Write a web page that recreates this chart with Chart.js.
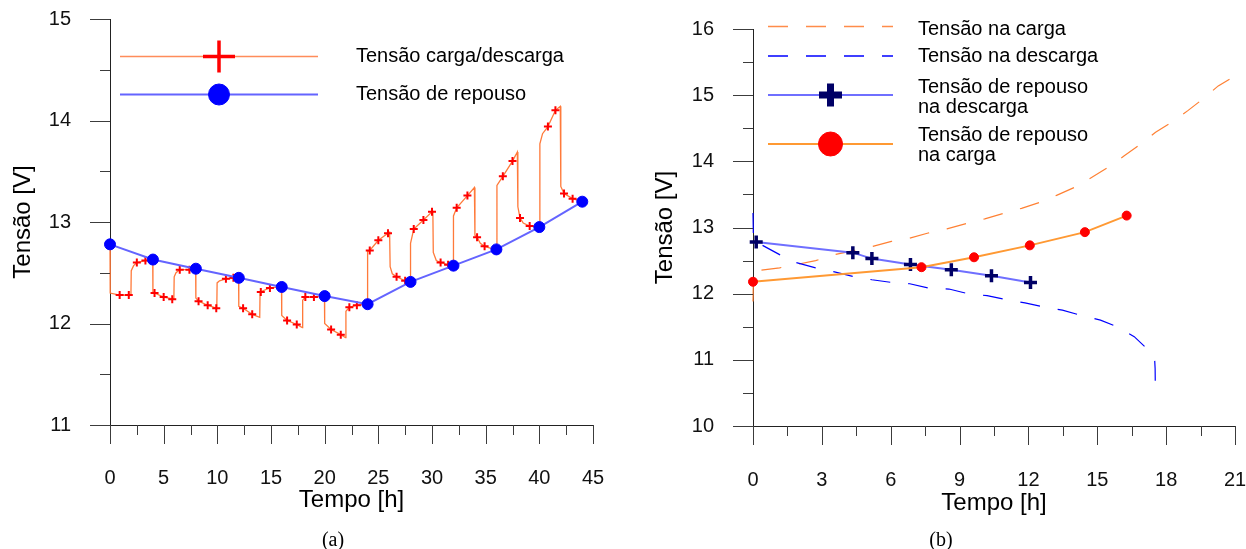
<!DOCTYPE html>
<html lang="pt">
<head>
<meta charset="utf-8">
<title>Tensão x tempo</title>
<script src="https://cdn.jsdelivr.net/npm/chart.js@4/dist/chart.umd.min.js"></script>
<style>
  html, body { margin: 0; padding: 0; background: #fff; }
  #fig { position: relative; width: 1246px; height: 549px; overflow: hidden; }
  #fig canvas { position: absolute; top: 0; }
  #grafA { left: 0; }
  #grafB { left: 620px; }
  .rotulo-fig {
    position: absolute; top: 528px; width: 60px; margin-left: -30px;
    text-align: center; font: 20px/22px "Liberation Serif", "Times New Roman", serif; color: #000;
  }
</style>
</head>
<body>
<div id="fig">
  <canvas id="grafA" width="620" height="549"></canvas>
  <canvas id="grafB" width="626" height="549"></canvas>
  <div class="rotulo-fig" style="left:333px">(a)</div>
  <div class="rotulo-fig" style="left:941px">(b)</div>
</div>
<script>
/* ------------------------------------------------------------------
   DADOS — (a) ciclos de carga/descarga
   ------------------------------------------------------------------ */
var tempoRepousoA  = [0, 4, 8, 12, 16, 20, 24, 28, 32, 36, 40, 44];
var tensaoRepousoA = [12.78, 12.63, 12.54, 12.45, 12.36, 12.27, 12.19, 12.41, 12.57, 12.73, 12.95, 13.20];

var tempoCicloA = [
  0, 0.02, 0.9, 1.95, 1.98, 2.2, 2.5, 3.3, 3.98,
  4.0, 4.15, 5.0, 5.95, 5.98, 6.15, 6.5, 7.4, 7.98,
  8.0, 8.25, 9.1, 9.95, 9.98, 10.2, 10.8, 11.98,
  12.0, 12.4, 13.25, 13.95, 13.98, 14.2, 14.9, 15.98,
  16.0, 16.5, 17.4, 17.92, 17.95, 18.2, 19.0, 19.98,
  20.0, 20.6, 21.5, 21.95, 21.98, 22.3, 23.0, 23.98,
  24.0, 24.2, 25.0, 25.9, 26.05, 26.1, 26.3, 26.7, 27.5, 27.98,
  28.0, 28.3, 29.2, 30.0, 30.08, 30.12, 30.4, 30.8, 31.5, 31.98,
  32.0, 32.3, 33.3, 33.95, 34.0, 34.2, 34.5, 34.9, 35.5, 36.0,
  36.05, 36.6, 37.5, 37.95, 38.0, 38.2, 38.5, 39.1, 40.0,
  40.05, 40.3, 40.8, 41.5, 41.95, 42.0, 42.3, 43.1, 44.0
];
var tensaoCicloA = [
  12.78, 12.30, 12.28, 12.28, 12.52, 12.57, 12.60, 12.62, 12.63,
  12.31, 12.30, 12.26, 12.24, 12.46, 12.50, 12.53, 12.53, 12.54,
  12.25, 12.22, 12.18, 12.15, 12.40, 12.42, 12.44, 12.45,
  12.17, 12.15, 12.09, 12.06, 12.30, 12.32, 12.35, 12.36,
  12.08, 12.03, 11.99, 11.96, 12.23, 12.26, 12.26, 12.27,
  12.00, 11.94, 11.89, 11.86, 12.12, 12.16, 12.18, 12.19,
  12.71, 12.72, 12.82, 12.89, 12.90, 12.56, 12.49, 12.46, 12.42, 12.41,
  12.79, 12.93, 13.02, 13.10, 13.11, 12.70, 12.62, 12.60, 12.58, 12.57,
  13.06, 13.14, 13.26, 13.34, 12.87, 12.85, 12.79, 12.76, 12.74, 12.73,
  13.36, 13.45, 13.60, 13.69, 13.15, 13.04, 12.99, 12.96, 12.95,
  13.77, 13.87, 13.94, 14.10, 14.14, 13.35, 13.28, 13.23, 13.20
];

var tempoMarcaA = [
  0.9, 1.75, 2.5, 3.3, 4.15, 5.0, 5.8, 6.5, 7.4,
  8.25, 9.1, 9.9, 10.8, 11.5, 12.4, 13.25, 14.05, 14.9,
  16.5, 17.4, 18.2, 19.0, 20.6, 21.5, 22.3, 23.0,
  24.2, 25.0, 25.9, 26.7, 27.5, 28.3, 29.2, 30.0, 30.8, 31.5,
  32.3, 33.3, 34.2, 34.9, 36.6, 37.5, 38.2, 39.1,
  40.8, 41.5, 42.3, 43.1
];
var tensaoMarcaA = [
  12.28, 12.28, 12.60, 12.62, 12.30, 12.26, 12.24, 12.53, 12.53,
  12.22, 12.18, 12.15, 12.44, 12.45, 12.15, 12.09, 12.31, 12.35,
  12.03, 11.99, 12.26, 12.26, 11.94, 11.89, 12.16, 12.18,
  12.72, 12.82, 12.89, 12.46, 12.42, 12.93, 13.02, 13.10, 12.60, 12.58,
  13.14, 13.26, 12.85, 12.76, 13.45, 13.60, 13.04, 12.96,
  13.94, 14.10, 13.28, 13.23
];

var ticksXA = [0, 5, 10, 15, 20, 25, 30, 35, 40, 45];
var ticksYA = [11, 12, 13, 14, 15];

/* ------------------------------------------------------------------
   DADOS — (b) carga e descarga contínuas
   ------------------------------------------------------------------ */
var tempoCargaB = [
  0, 0.02, 0.21, 1.16, 1.88, 2.73, 3.55, 4.4, 5.18, 6.03, 6.83, 7.67, 8.45, 9.3,
  10.1, 10.89, 11.7, 12.49, 13.25, 14.1, 14.82, 15.47, 16.16, 16.89, 17.54,
  18.28, 18.96, 19.59, 20.27, 20.8
];
var tensaoCargaB = [
  11.88, 12.33, 12.35, 12.39, 12.44, 12.50, 12.59, 12.65, 12.71, 12.79, 12.84, 12.92, 12.98, 13.06,
  13.13, 13.21, 13.29, 13.38, 13.49, 13.62, 13.77, 13.91, 14.08, 14.26, 14.44,
  14.60, 14.77, 14.94, 15.14, 15.25
];

var tempoDescargaB = [
  0, 0.02, 0.36, 1.16, 1.88, 2.73, 3.55, 4.35, 5.18, 6.03, 6.83, 7.7, 8.54, 9.37,
  10.2, 11.04, 11.85, 12.67, 13.48, 14.31, 15.14, 15.87, 16.61, 17.22, 17.5, 17.52, 17.53
];
var tensaoDescargaB = [
  13.22, 12.80, 12.74, 12.59, 12.47, 12.39, 12.33, 12.26, 12.21, 12.17, 12.15, 12.08, 12.07, 12.00,
  11.97, 11.91, 11.86, 11.80, 11.75, 11.67, 11.60, 11.50, 11.35, 11.15, 11.00, 10.87, 10.55
];

var tempoRepDescB  = [0.14, 4.35, 5.18, 6.86, 8.64, 10.39, 12.09];
var tensaoRepDescB = [12.78, 12.62, 12.53, 12.44, 12.36, 12.27, 12.17];

var tempoRepCargaB  = [0, 7.34, 9.63, 12.06, 14.46, 16.28];
var tensaoRepCargaB = [12.18, 12.40, 12.55, 12.73, 12.93, 13.18];

var ticksXB = [0, 3, 6, 9, 12, 15, 18, 21];
var ticksYB = [10, 11, 12, 13, 14, 15, 16];

/* ------------------------------------------------------------------
   AUXILIARES
   ------------------------------------------------------------------ */
var FONTE = '"Liberation Sans", Arial, sans-serif';

function pares(xs, ys) {
  return xs.map(function (x, i) { return { x: x, y: ys[i] }; });
}

function fixarTicks(lista) {
  return function (scale) {
    scale.ticks = lista.map(function (v) { return { value: v }; });
  };
}

function larguraFixa(w) {
  return function (scale) {
    scale.width = w;
    scale.paddingTop = 0; scale.paddingBottom = 0;
  };
}

function alturaFixa(h) {
  return function (scale) {
    scale.height = h;
    scale.paddingLeft = 0; scale.paddingRight = 0;
  };
}

// marcas dos eixos: maiores nos ticks, menores no meio, para fora
var marcasEixos = {
  id: 'marcasEixos',
  afterDraw: function (chart) {
    var ctx = chart.ctx, sx = chart.scales.x, sy = chart.scales.y, a = chart.chartArea;
    var tx = sx.ticks, ty = sy.ticks, i, p;
    ctx.save();
    ctx.strokeStyle = '#3c3c3c';
    ctx.lineWidth = 1;
    ctx.beginPath();
    for (i = 0; i < tx.length; i++) {
      p = Math.round(sx.getPixelForValue(tx[i].value)) + 0.5;
      ctx.moveTo(p, a.bottom); ctx.lineTo(p, a.bottom + 19);
      if (i < tx.length - 1) {
        p = Math.round(sx.getPixelForValue((tx[i].value + tx[i + 1].value) / 2)) + 0.5;
        ctx.moveTo(p, a.bottom); ctx.lineTo(p, a.bottom + 10);
      }
    }
    for (i = 0; i < ty.length; i++) {
      p = Math.round(sy.getPixelForValue(ty[i].value)) + 0.5;
      ctx.moveTo(a.left, p); ctx.lineTo(a.left - 20, p);
      if (i < ty.length - 1) {
        p = Math.round(sy.getPixelForValue((ty[i].value + ty[i + 1].value) / 2)) + 0.5;
        ctx.moveTo(a.left, p); ctx.lineTo(a.left - 10, p);
      }
    }
    ctx.stroke();
    ctx.restore();
  }
};

// legenda desenhada à mão: linha comprida com o marcador no meio
function criarLegenda(cfg) {
  return {
    id: 'legendaManual',
    afterDraw: function (chart) {
      var ctx = chart.ctx;
      cfg.itens.forEach(function (it) {
        ctx.save();
        ctx.strokeStyle = it.cor;
        ctx.lineWidth = it.largura;
        ctx.setLineDash(it.traco || []);
        ctx.beginPath();
        ctx.moveTo(cfg.x1, it.y);
        ctx.lineTo(cfg.x2, it.y);
        ctx.stroke();
        ctx.setLineDash([]);
        if (it.marcador) {
          ctx.fillStyle = it.corMarcador;
          ctx.strokeStyle = it.corMarcador;
          ctx.lineWidth = it.espessura;
          Chart.helpers.drawPoint(ctx, {
            pointStyle: it.marcador, radius: it.raio, borderWidth: it.espessura, rotation: 0
          }, (cfg.x1 + cfg.x2) / 2, it.y);
        }
        ctx.fillStyle = '#000';
        ctx.font = '20px ' + FONTE;
        ctx.textBaseline = 'middle';
        it.texto.forEach(function (linha, k) {
          ctx.fillText(linha, cfg.xTexto, it.yTexto + k * 20);
        });
        ctx.restore();
      });
    }
  };
}

function eixo(min, max, ticks, titulo, extra) {
  var s = {
    type: 'linear',
    min: min,
    max: max,
    afterBuildTicks: fixarTicks(ticks),
    grid: { display: false, drawTicks: false },
    border: { display: true, color: '#222', width: 1 },
    ticks: { color: '#111', font: { size: 20, family: FONTE } },
    title: { display: true, text: titulo, color: '#000', font: { size: 24, family: FONTE } }
  };
  Object.keys(extra).forEach(function (k) { s[k] = extra[k]; });
  return s;
}

Chart.defaults.font.family = FONTE;
Chart.defaults.animation = false;
Chart.defaults.events = [];
Chart.defaults.plugins.legend.display = false;
Chart.defaults.plugins.tooltip.enabled = false;

/* ------------------------------------------------------------------
   (a)
   ------------------------------------------------------------------ */
function initGraficoA() {
  var eixoX = eixo(0, 45, ticksXA, 'Tempo [h]', { afterFit: alturaFixa(124) });
  eixoX.ticks.padding = 41;
  eixoX.title.padding = { top: 0, bottom: 34 };
  var eixoY = eixo(11, 15, ticksYA, 'Tensão [V]', { afterFit: larguraFixa(110) });
  eixoY.ticks.padding = 39;
  eixoY.title.padding = { top: 9, bottom: 0 };

  new Chart(document.getElementById('grafA'), {
    type: 'line',
    data: {
      datasets: [{
        data: pares(tempoRepousoA, tensaoRepousoA),
        borderColor: '#6464ff',
        borderWidth: 2,
        pointStyle: 'circle',
        pointRadius: 5.5,
        pointBackgroundColor: '#0000ff',
        pointBorderColor: '#0000ff',
        pointBorderWidth: 1,
        clip: false
      }, {
        data: pares(tempoMarcaA, tensaoMarcaA),
        showLine: false,
        pointStyle: 'cross',
        pointRadius: 4,
        pointBorderColor: '#ff0000',
        pointBorderWidth: 2,
        clip: false
      }, {
        data: pares(tempoCicloA, tensaoCicloA),
        borderColor: '#ff7a3a',
        borderWidth: 1.3,
        pointRadius: 0,
        clip: false
      }]
    },
    options: {
      responsive: false,
      layout: { padding: { left: 0, top: 19, right: 27, bottom: 0 } },
      scales: { x: eixoX, y: eixoY }
    },
    plugins: [marcasEixos, criarLegenda({
      x1: 120, x2: 318, xTexto: 356,
      itens: [
        { y: 56.5, cor: '#ff8c5a', largura: 1.5, marcador: 'cross', corMarcador: '#ff0000',
          raio: 16, espessura: 3.5, texto: ['Tensão carga/descarga'], yTexto: 56 },
        { y: 94.5, cor: '#6464ff', largura: 2, marcador: 'circle', corMarcador: '#0000ff',
          raio: 10.5, espessura: 1, texto: ['Tensão de repouso'], yTexto: 94 }
      ]
    })]
  });
}

/* ------------------------------------------------------------------
   (b)
   ------------------------------------------------------------------ */
function initGraficoB() {
  var eixoX = eixo(0, 21, ticksXB, 'Tempo [h]', { afterFit: alturaFixa(123) });
  eixoX.ticks.padding = 42;
  eixoX.title.padding = { top: 0, bottom: 31 };
  var eixoY = eixo(10, 16, ticksYB, 'Tensão [V]', { afterFit: larguraFixa(133) });
  eixoY.ticks.padding = 39;
  eixoY.title.padding = { top: 31, bottom: 0 };

  new Chart(document.getElementById('grafB'), {
    type: 'line',
    data: {
      datasets: [{
        data: pares(tempoRepCargaB, tensaoRepCargaB),
        borderColor: '#ff9933',
        borderWidth: 2,
        pointStyle: 'circle',
        pointRadius: 4.5,
        pointBackgroundColor: '#ff0000',
        pointBorderColor: '#ff0000',
        pointBorderWidth: 1,
        clip: false
      }, {
        data: pares(tempoRepDescB, tensaoRepDescB),
        borderColor: '#6f6fff',
        borderWidth: 2,
        pointStyle: 'cross',
        pointRadius: 6.5,
        pointBorderColor: '#000066',
        pointBorderWidth: 3.5,
        clip: false
      }, {
        data: pares(tempoDescargaB, tensaoDescargaB),
        borderColor: '#0000ff',
        borderWidth: 1.2,
        borderDash: [20, 18],
        pointRadius: 0,
        clip: false
      }, {
        data: pares(tempoCargaB, tensaoCargaB),
        borderColor: '#ff8033',
        borderWidth: 1.2,
        borderDash: [20, 18],
        pointRadius: 0,
        clip: false
      }]
    },
    options: {
      responsive: false,
      layout: { padding: { left: 0, top: 29, right: 11, bottom: 0 } },
      scales: { x: eixoX, y: eixoY }
    },
    plugins: [marcasEixos, criarLegenda({
      x1: 148, x2: 273, xTexto: 298,
      itens: [
        { y: 26.5, cor: '#ff8c4a', largura: 1.3, traco: [20, 18], texto: ['Tensão na carga'], yTexto: 29 },
        { y: 56, cor: '#0000ff', largura: 1.3, traco: [20, 18], texto: ['Tensão na descarga'], yTexto: 56 },
        { y: 95, cor: '#6f6fff', largura: 2, marcador: 'cross', corMarcador: '#000066',
          raio: 11.5, espessura: 7, texto: ['Tensão de repouso', 'na descarga'], yTexto: 87 },
        { y: 144, cor: '#ff9933', largura: 2, marcador: 'circle', corMarcador: '#ff0000',
          raio: 12, espessura: 1, texto: ['Tensão de repouso', 'na carga'], yTexto: 135 }
      ]
    })]
  });
}

initGraficoA();
initGraficoB();
</script>
</body>
</html>
